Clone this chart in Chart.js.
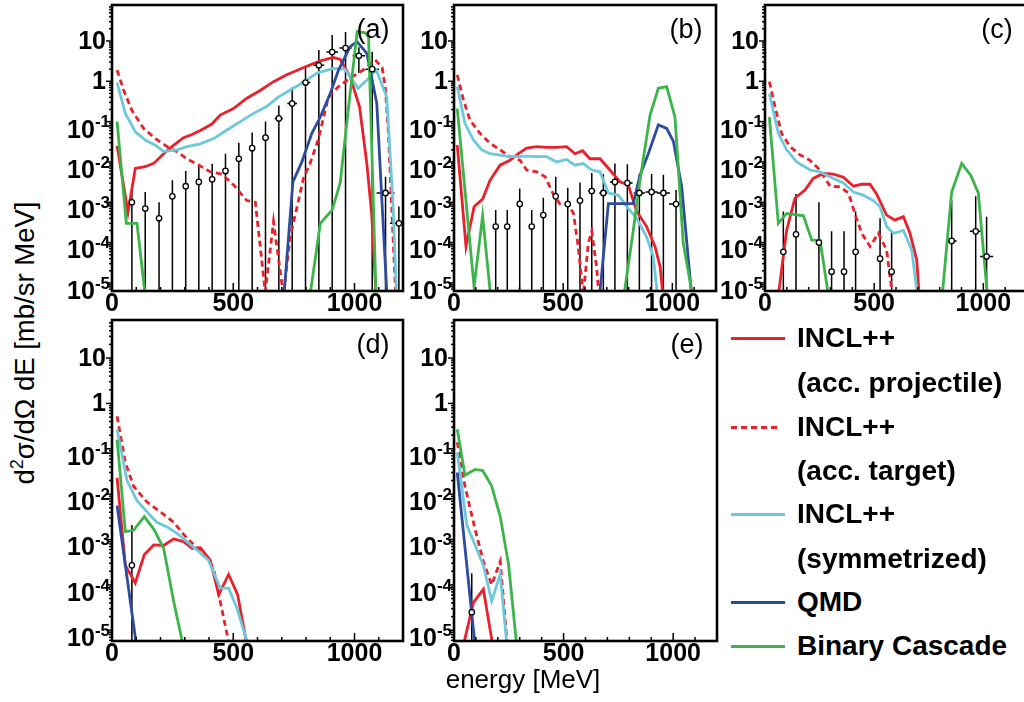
<!DOCTYPE html>
<html>
<head>
<meta charset="utf-8">
<script src="https://cdn.jsdelivr.net/npm/chart.js@4.4.0/dist/chart.umd.min.js"></script>
<style>
  body { margin: 0; background: #fff; }
  #page { position: relative; width: 1024px; height: 702px; overflow: hidden; background: #fff;
          font-family: "Liberation Sans", Arial, sans-serif; color: #000; }
  canvas.panel { position: absolute; }
  #ytitle { position: absolute; left: 24px; top: 343px; transform: translate(-50%, -50%) rotate(-90deg);
            white-space: nowrap; font-size: 27.5px; }
  #ytitle sup { font-size: 18px; }
  #xtitle { position: absolute; left: 523px; top: 679px; transform: translate(-50%, -50%);
            white-space: nowrap; font-size: 26px; }
  .lg-line { position: absolute; left: 731px; width: 54px; height: 3px; }
  .lg-text { position: absolute; left: 797px; height: 32px; line-height: 32px; font-weight: bold;
             font-size: 28px; white-space: nowrap; }
</style>
</head>
<body>
<div id="page">
  <canvas class="panel" id="pa"></canvas>
  <canvas class="panel" id="pb"></canvas>
  <canvas class="panel" id="pc"></canvas>
  <canvas class="panel" id="pd"></canvas>
  <canvas class="panel" id="pe"></canvas>

  <div id="ytitle">d<sup>2</sup>σ/dΩ dE [mb/sr MeV]</div>
  <div id="xtitle">energy [MeV]</div>

  <div class="lg-line" style="top:337px; background:#e8212b;"></div>
  <div class="lg-text" style="top:322px;">INCL++</div>
  <div class="lg-text" style="top:367px;">(acc. projectile)</div>
  <div class="lg-line" style="top:426px; width:50px; background:repeating-linear-gradient(90deg,#e8212b 0 6px,transparent 6px 10px);"></div>
  <div class="lg-text" style="top:411px;">INCL++</div>
  <div class="lg-text" style="top:455px;">(acc. target)</div>
  <div class="lg-line" style="top:513px; background:#6ec8dc;"></div>
  <div class="lg-text" style="top:498px;">INCL++</div>
  <div class="lg-text" style="top:543px;">(symmetrized)</div>
  <div class="lg-line" style="top:601px; background:#2e4c9e;"></div>
  <div class="lg-text" style="top:586px;">QMD</div>
  <div class="lg-line" style="top:645px; background:#3cb44a;"></div>
  <div class="lg-text" style="top:630px;">Binary Cascade</div>
</div>

<script>
// axis ticks
const xTickVals = [0, 500, 1000];
const yTickVals = [10, 1, 0.1, 0.01, 1e-3, 1e-4, 1e-5];
const yTickBase = ["10", "1", "10", "10", "10", "10", "10"];
const yTickExp = ["", "", "-1", "-2", "-3", "-4", "-5"];

// values below 1e-5 that sit off the axis are where a curve leaves the frame

// ---- panel (a)
const aProjE = [21, 66, 96, 137, 172, 213, 247, 295, 330, 364, 412, 446, 501, 556, 611, 666, 721, 783, 859, 913, 941, 982, 1021, 1051, 1071, 1095];
const aProjY = [0.025, 5.7e-4, 6.9e-3, 7.6e-3, 9.2e-3, 0.016, 0.024, 0.04, 0.048, 0.06, 0.087, 0.145, 0.21, 0.38, 0.59, 0.98, 1.45, 2.1, 3.2, 3.9, 3.5, 1.3, 0.23, 9e-3, 5e-4, 1e-6];
const aTargE = [21, 48, 82, 130, 179, 227, 268, 309, 357, 405, 453, 501, 556, 591, 632, 666, 707, 735, 769, 790, 817, 850, 892, 932, 982, 1036, 1085, 1114, 1127, 1140, 1160, 1175];
const aTargY = [1.9, 0.6, 0.19, 0.068, 0.038, 0.024, 0.018, 0.012, 8.4e-3, 5.7e-3, 5e-3, 2.7e-3, 1.1e-3, 1e-3, 6e-6, 3.3e-4, 5e-6, 1.4e-4, 1.1e-3, 4e-3, 9.3e-3, 0.035, 0.4, 0.72, 1.2, 1.9, 3.4, 2.2, 0.72, 0.05, 1e-4, 1e-6];
const aSymE = [21, 55, 96, 137, 179, 213, 268, 309, 364, 419, 474, 529, 584, 639, 687, 735, 783, 845, 913, 960, 1015, 1051, 1090, 1133, 1158, 1178];
const aSymY = [0.93, 0.16, 0.056, 0.035, 0.026, 0.018, 0.02, 0.024, 0.028, 0.038, 0.062, 0.1, 0.16, 0.24, 0.41, 0.61, 0.89, 1.6, 2.1, 2.0, 0.67, 1.07, 1.9, 0.41, 1.1e-3, 1e-6];
const aQmdE = [700, 746, 783, 824, 859, 900, 934, 982, 1010, 1051, 1092, 1113, 1140];
const aQmdY = [1e-6, 3.2e-3, 0.01, 0.051, 0.13, 0.5, 1.9, 7.2, 9.6, 4.9, 0.28, 1.1e-3, 1e-6];
const aBinE = [21, 59, 103, 150, 800, 859, 908, 941, 974, 1011, 1044, 1058, 1092];
const aBinY = [0.1, 3e-4, 3e-4, 1e-6, 1e-6, 3e-4, 6.5e-4, 3e-3, 0.19, 17, 16, 12.6, 1e-6];
const aExpE = [82, 137, 194, 249, 304, 358, 413, 468, 523, 578, 633, 688, 743, 798, 853, 908, 963, 1018, 1073, 1128, 1183];
const aExpY = [1e-3, 7e-4, 4e-4, 1.4e-3, 2.5e-3, 3.2e-3, 3.7e-3, 6e-3, 0.012, 0.022, 0.04, 0.12, 0.28, 0.93, 2.5, 5.3, 6.7, 4.3, 2.0, 1.7e-3, 3e-4];
const aExpHi = [2.5e-3, 1.8e-3, 1e-3, 3.5e-3, 6e-3, 8.3e-3, 9e-3, 0.016, 0.03, 0.054, 0.1, 0.25, 0.7, 2.3, 6, 14, 16.7, 7, 5.4, 4.3e-3, 7.8e-4];
const aExpDx = [3, 4, 5, 6, 7, 8, 9, 10, 11, 12, 14, 17, 20, 20, 22, 24, 25, 26, 28, 37, 37];

// ---- panel (b)
const bProjE = [15, 55, 92, 131, 165, 211, 256, 295, 333, 379, 424, 470, 516, 554, 589, 623, 669, 714, 760, 798, 837, 882, 921, 944, 970];
const bProjY = [0.026, 8e-5, 7.8e-4, 1.2e-3, 3.5e-3, 8.3e-3, 0.011, 0.016, 0.022, 0.024, 0.023, 0.023, 0.024, 0.016, 0.019, 0.012, 0.012, 6.3e-3, 3.2e-3, 2.7e-3, 5.9e-4, 2.5e-4, 7.9e-5, 2.5e-5, 1e-6];
const bTargE = [15, 43, 73, 119, 165, 211, 256, 302, 333, 379, 417, 455, 485, 524, 547, 569, 592, 615, 631, 653, 675];
const bTargY = [1.44, 0.35, 0.11, 0.051, 0.029, 0.02, 0.0135, 0.011, 6.3e-3, 5.7e-3, 4.3e-3, 1.6e-3, 9.1e-4, 9.1e-4, 5.3e-4, 8e-5, 5e-6, 9.6e-5, 1.9e-4, 2.5e-5, 1e-6];
const bSymE = [15, 50, 89, 127, 165, 211, 256, 295, 333, 379, 424, 470, 516, 554, 592, 631, 669, 707, 753, 791, 837, 882, 913, 945];
const bSymY = [0.74, 0.091, 0.035, 0.02, 0.016, 0.0148, 0.0135, 0.0135, 0.014, 0.0135, 0.0135, 0.01, 0.0115, 8.3e-3, 9.1e-3, 6.3e-3, 5.7e-3, 1.7e-3, 1.5e-3, 7.8e-4, 4e-4, 1.4e-4, 4.5e-5, 1e-6];
const bQmdE = [655, 707, 821, 852, 890, 936, 974, 1005, 1043, 1100];
const bQmdY = [1e-6, 9.3e-4, 9.3e-4, 4.7e-3, 0.016, 0.083, 0.068, 0.032, 2.4e-3, 1e-6];
const bBinE = [15, 92, 131, 180, 760, 821, 852, 898, 936, 974, 1012, 1050, 1115];
const bBinY = [0.21, 8e-6, 4.6e-4, 1e-6, 1e-6, 2e-4, 3.5e-3, 0.145, 0.67, 0.74, 0.13, 9.6e-5, 1e-6];
const bExpE = [191, 244, 301, 356, 409, 466, 521, 577, 631, 684, 737, 794, 849, 905, 959, 1017];
const bExpY = [2.5e-4, 2.5e-4, 9.1e-4, 2.5e-4, 4.8e-4, 1.4e-3, 9e-4, 1.1e-3, 1.9e-3, 1.7e-3, 3.2e-3, 3e-3, 1.7e-3, 1.8e-3, 1.7e-3, 9e-4];
const bExpHi = [6.4e-4, 6.4e-4, 2.2e-3, 6.4e-4, 1.3e-3, 4.3e-3, 2.3e-3, 3.1e-3, 5.3e-3, 5e-3, 9.1e-3, 8.8e-3, 5e-3, 5e-3, 4.8e-3, 2e-3];
const bExpDx = [5, 6, 8, 9, 10, 12, 13, 14, 16, 19, 23, 24, 26, 28, 30, 32];

// ---- panel (c)
const cProjE = [45, 99, 137, 183, 221, 267, 313, 359, 405, 443, 481, 511, 557, 595, 634, 664, 695, 715];
const cProjY = [1e-6, 2e-4, 1.26e-3, 2e-3, 3.9e-3, 5.2e-3, 5e-3, 4.2e-3, 2.5e-3, 2.8e-3, 2.8e-3, 1.6e-3, 4.8e-4, 3.6e-4, 4.4e-4, 1.7e-4, 3.7e-5, 1e-6];
const cTargE = [20, 46, 76, 115, 160, 206, 252, 298, 344, 382, 412, 443, 481, 519, 557, 600];
const cTargY = [0.98, 0.23, 0.051, 0.024, 0.015, 0.011, 6.3e-3, 2.5e-3, 2.4e-3, 1.7e-3, 5.2e-4, 1.7e-4, 8e-5, 1.7e-4, 6.5e-5, 1e-6];
const cSymE = [20, 61, 99, 145, 206, 252, 313, 359, 405, 450, 496, 527, 557, 588, 634, 672, 715];
const cSymY = [0.5, 0.051, 0.02, 0.01, 6.3e-3, 5.7e-3, 3.9e-3, 3e-3, 1.8e-3, 1.5e-3, 1.1e-3, 7.7e-4, 2.5e-4, 1.7e-4, 2e-4, 6.5e-5, 1e-6];
const cBinE = [20, 61, 99, 176, 214, 252, 310, 800, 855, 901, 942, 977, 1030];
const cBinY = [0.13, 3e-4, 5.3e-4, 4.6e-4, 1.15e-4, 1.15e-4, 1e-6, 1e-6, 1.8e-3, 9.2e-3, 4.7e-3, 1.7e-3, 1e-6];
const cExpE = [84, 142, 247, 305, 362, 415, 527, 580, 855, 965, 1015];
const cExpY = [5.9e-5, 1.6e-4, 1e-4, 1.9e-5, 1.9e-5, 5.9e-5, 4e-5, 1.9e-5, 1.1e-4, 1.9e-4, 4.5e-5];
const cExpHi = [5.9e-4, 1.6e-3, 1e-3, 1.9e-4, 1.9e-4, 5.9e-4, 4e-4, 1.9e-4, 1.1e-3, 1.4e-3, 4.4e-4];
const cExpDx = [5, 6, 8, 9, 10, 11, 13, 14, 23, 27, 30];

// ---- panel (d)
const dProjE = [21, 55, 96, 133, 172, 213, 254, 295, 330, 364, 405, 440, 481, 518, 580];
const dProjY = [0.023, 2.7e-4, 1.1e-4, 4.6e-4, 7.6e-4, 7.4e-4, 1.03e-3, 9e-4, 6.4e-4, 6.6e-4, 3.5e-4, 6.1e-5, 1.7e-4, 6.1e-5, 1e-6];
const dTargE = [21, 55, 89, 144, 199, 254, 309, 350, 391, 419, 446, 510];
const dTargY = [0.52, 0.05, 0.015, 6.7e-3, 4.1e-3, 2.4e-3, 1.07e-3, 6.5e-4, 3.9e-4, 2.3e-4, 4.4e-5, 1e-6];
const dSymE = [21, 62, 103, 144, 185, 227, 268, 309, 350, 398, 446, 481, 515, 600];
const dSymY = [0.27, 0.02, 7.2e-3, 4.1e-3, 2.4e-3, 1.9e-3, 1.37e-3, 9e-4, 5.9e-4, 3.5e-4, 8.5e-5, 8.5e-5, 3.1e-5, 1e-6];
const dQmdE = [21, 118];
const dQmdY = [5.6e-3, 1e-6];
const dBinE = [21, 55, 89, 133, 172, 213, 254, 320];
const dBinY = [0.16, 1.5e-3, 1.6e-3, 3.2e-3, 1.7e-3, 6.4e-4, 4.4e-5, 1e-6];
const dExpE = [82];
const dExpY = [2.7e-4];
const dExpHi = [2.1e-3];
const dExpDx = [3];

// ---- panel (e)
const eProjE = [10, 89, 134, 200];
const eProjY = [1e-6, 4.1e-5, 8e-5, 1e-6];
const eTargE = [15, 50, 96, 134, 172, 211, 255];
const eTargY = [0.14, 0.015, 1.7e-3, 3.3e-4, 1e-4, 3.3e-4, 1e-6];
const eSymE = [15, 58, 96, 134, 172, 211, 255];
const eSymY = [0.083, 2.1e-3, 7.6e-4, 2.7e-4, 4.4e-5, 1.7e-4, 1e-6];
const eQmdE = [15, 110];
const eQmdY = [0.03, 1e-6];
const eBinE = [15, 50, 96, 131, 172, 211, 249, 300];
const eBinY = [0.27, 0.026, 0.035, 0.033, 0.015, 3.2e-3, 2.8e-4, 1e-6];
const eExpE = [81];
const eExpY = [2.5e-5];
const eExpHi = [1.8e-4];
const eExpDx = [3];

const colProj = "#e8212b";
const colSym = "#6ec8dc";
const colQmd = "#2e4c9e";
const colBin = "#3cb44a";

const padL = 70, padT = 10, padR = 12, padB = 40;
const panels = {};

function pts(E, Y) {
  return E.map((e, i) => ({ x: e, y: Y[i] }));
}

function curve(E, Y, color, dash) {
  return {
    data: pts(E, Y),
    borderColor: color,
    borderWidth: 2.8,
    borderDash: dash || [],
    pointRadius: 0,
    fill: false,
    tension: 0
  };
}

const framePlugin = {
  id: "frame",
  beforeDatasetsDraw(chart) {
    const p = panels[chart.canvas.id];
    const { ctx, chartArea: a } = chart;
    const xs = chart.scales.x, ys = chart.scales.y;
    ctx.save();
    ctx.beginPath();
    ctx.rect(a.left, a.top, a.right - a.left, a.bottom - a.top);
    ctx.clip();
    ctx.strokeStyle = "#000";
    ctx.lineWidth = 1.5;
    p.exp.E.forEach((e, i) => {
      const px = xs.getPixelForValue(e);
      const py = ys.getPixelForValue(p.exp.Y[i]);
      // symmetric errors: a non-positive lower edge runs off the log axis
      const lo = 2 * p.exp.Y[i] - p.exp.Hi[i];
      const pLo = lo > 0 ? ys.getPixelForValue(lo) : a.bottom;
      ctx.beginPath();
      ctx.moveTo(px, ys.getPixelForValue(p.exp.Hi[i]));
      ctx.lineTo(px, pLo);
      ctx.moveTo(xs.getPixelForValue(e - p.exp.Dx[i]), py);
      ctx.lineTo(xs.getPixelForValue(e + p.exp.Dx[i]), py);
      ctx.stroke();
    });
    ctx.restore();
  },
  afterDraw(chart) {
    const p = panels[chart.canvas.id];
    const { ctx, chartArea: a } = chart;
    const xs = chart.scales.x, ys = chart.scales.y;
    ctx.save();
    ctx.strokeStyle = "#000";
    ctx.fillStyle = "#000";

    // x ticks, inside the frame
    ctx.lineWidth = 1.5;
    for (let v = 0; v <= 1200; v += 100) {
      const px = xs.getPixelForValue(v);
      const len = v % 500 === 0 ? 8 : 4;
      ctx.beginPath();
      ctx.moveTo(px, a.bottom);
      ctx.lineTo(px, a.bottom - len);
      ctx.stroke();
    }
    // y ticks, outside the frame
    for (let d = -6; d <= 1; d++) {
      for (let k = 1; k <= 9; k++) {
        const v = k * Math.pow(10, d);
        if (v < ys.min || v > ys.max) continue;
        const py = ys.getPixelForValue(v);
        ctx.beginPath();
        ctx.moveTo(a.left, py);
        ctx.lineTo(a.left - (k === 1 ? 6 : 3), py);
        ctx.stroke();
      }
    }

    // frame
    ctx.lineWidth = 2.6;
    ctx.strokeRect(a.left, a.top, a.right - a.left, a.bottom - a.top);

    // x tick labels
    ctx.font = 'bold 25px "Liberation Sans", Arial, sans-serif';
    ctx.textAlign = "center";
    ctx.textBaseline = "middle";
    xTickVals.forEach(v => {
      ctx.fillText(String(v), xs.getPixelForValue(v), a.bottom + 13);
    });

    // y tick labels, ROOT style 10^{-n}
    ctx.textAlign = "right";
    yTickVals.forEach((v, i) => {
      const py = ys.getPixelForValue(v);
      if (yTickExp[i] === "") {
        ctx.font = 'bold 25px "Liberation Sans", Arial, sans-serif';
        ctx.fillText(yTickBase[i], a.left - 6, py + 1);
      } else {
        ctx.font = 'bold 17px "Liberation Sans", Arial, sans-serif';
        const w = ctx.measureText(yTickExp[i]).width;
        ctx.fillText(yTickExp[i], a.left - 2, py + 1);
        ctx.font = 'bold 25px "Liberation Sans", Arial, sans-serif';
        ctx.fillText(yTickBase[i], a.left - 2 - w, py + 9);
      }
    });

    // panel tag
    ctx.font = '27px "Liberation Sans", Arial, sans-serif';
    ctx.textAlign = "center";
    ctx.fillText(p.tag, a.right - 30, a.top + 26);
    ctx.restore();
  }
};

function makePanel(id, box, yMin, yMax, tag, exp, lines) {
  const cv = document.getElementById(id);
  const w = box[2] - box[0] + padL + padR;
  const h = box[3] - box[1] + padT + padB;
  cv.width = w;
  cv.height = h;
  cv.style.left = (box[0] - padL) + "px";
  cv.style.top = (box[1] - padT) + "px";
  cv.style.width = w + "px";
  cv.style.height = h + "px";
  panels[id] = { tag: tag, exp: exp };

  const expSet = {
    data: pts(exp.E, exp.Y),
    showLine: false,
    pointRadius: 2.7,
    pointBackgroundColor: "#fff",
    pointBorderColor: "#000",
    pointBorderWidth: 1.3,
    borderColor: "#000"
  };

  new Chart(cv, {
    type: "line",
    data: { datasets: [expSet].concat(lines) },
    options: {
      responsive: false,
      animation: false,
      devicePixelRatio: 1,
      layout: { padding: { left: padL, top: padT, right: padR, bottom: padB } },
      scales: {
        x: { type: "linear", min: 0, max: 1200, display: false },
        y: { type: "logarithmic", min: yMin, max: yMax, display: false }
      },
      plugins: { legend: { display: false }, tooltip: { enabled: false } }
    },
    plugins: [framePlugin]
  });
}

const topMin = 6.3e-6, topMax = 78;
const botMin = 5.8e-6, botMax = 69;

makePanel("pa", [112, 5, 403, 291], topMin, topMax, "(a)",
  { E: aExpE, Y: aExpY, Hi: aExpHi, Dx: aExpDx },
  [curve(aBinE, aBinY, colBin), curve(aQmdE, aQmdY, colQmd), curve(aSymE, aSymY, colSym),
   curve(aTargE, aTargY, colProj, [6, 4]), curve(aProjE, aProjY, colProj)]);

makePanel("pb", [454, 5, 716, 291], topMin, topMax, "(b)",
  { E: bExpE, Y: bExpY, Hi: bExpHi, Dx: bExpDx },
  [curve(bBinE, bBinY, colBin), curve(bQmdE, bQmdY, colQmd), curve(bSymE, bSymY, colSym),
   curve(bTargE, bTargY, colProj, [6, 4]), curve(bProjE, bProjY, colProj)]);

makePanel("pc", [765, 5, 1027, 291], topMin, topMax, "(c)",
  { E: cExpE, Y: cExpY, Hi: cExpHi, Dx: cExpDx },
  [curve(cBinE, cBinY, colBin), curve(cSymE, cSymY, colSym),
   curve(cTargE, cTargY, colProj, [6, 4]), curve(cProjE, cProjY, colProj)]);

makePanel("pd", [112, 320, 403, 641], botMin, botMax, "(d)",
  { E: dExpE, Y: dExpY, Hi: dExpHi, Dx: dExpDx },
  [curve(dBinE, dBinY, colBin), curve(dQmdE, dQmdY, colQmd), curve(dSymE, dSymY, colSym),
   curve(dTargE, dTargY, colProj, [6, 4]), curve(dProjE, dProjY, colProj)]);

makePanel("pe", [454, 320, 717, 641], botMin, botMax, "(e)",
  { E: eExpE, Y: eExpY, Hi: eExpHi, Dx: eExpDx },
  [curve(eBinE, eBinY, colBin), curve(eQmdE, eQmdY, colQmd), curve(eSymE, eSymY, colSym),
   curve(eTargE, eTargY, colProj, [6, 4]), curve(eProjE, eProjY, colProj)]);
</script>
</body>
</html>
